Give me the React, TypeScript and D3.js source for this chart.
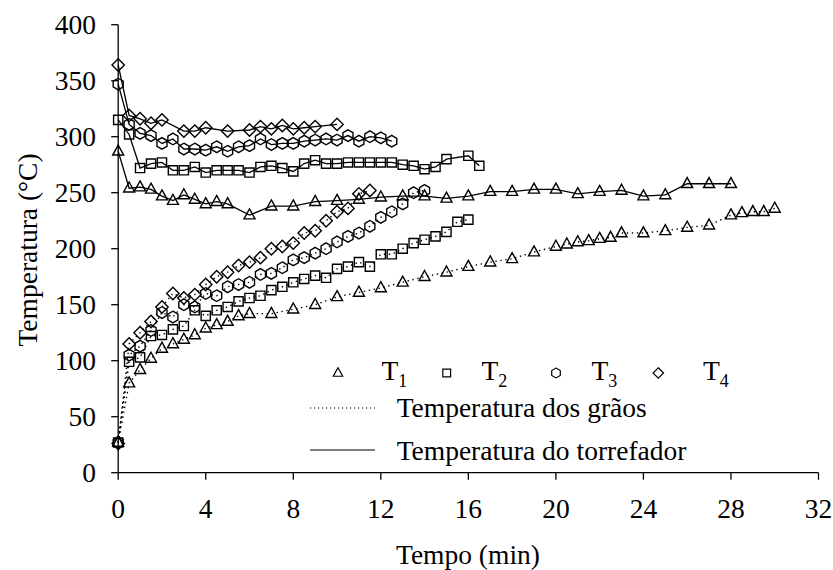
import React from 'react';
import * as d3 from 'd3';

// ---- Data (time in min, temperature in °C) ----
const t1RoasterTime = [0, 0.5, 1, 1.5, 2, 2.5, 3, 3.5, 4, 4.5, 5, 6, 7, 8, 9, 10, 11, 12, 13, 14, 15, 16, 17, 18, 19, 20, 21, 22, 23, 24, 25, 26, 27, 28];
const t1RoasterTemp = [287, 254, 255, 253, 247, 243, 248, 244, 240, 242, 240, 230, 238, 238, 242, 243, 244, 246, 247, 247, 245, 247, 251, 251, 253, 253, 249, 251, 252, 247, 248, 258, 258, 258];

const t1GrainTime = [0, 0.5, 1, 1.5, 2, 2.5, 3, 3.5, 4, 4.5, 5, 5.5, 6, 7, 8, 9, 10, 11, 12, 13, 14, 15, 16, 17, 18, 19, 20, 20.5, 21, 21.5, 22, 22.5, 23, 24, 25, 26, 27, 28, 28.5, 29, 29.5, 30];
const t1GrainTemp = [27, 80, 92, 102, 111, 115, 119, 123, 129, 132, 135, 140, 142, 142, 146, 150, 157, 161, 165, 170, 175, 179, 184, 188, 191, 197, 202, 204, 206, 207, 209, 210, 214, 214, 216, 219, 221, 230, 232, 233, 233, 236];

const t2RoasterTime = [0, 0.5, 1, 1.5, 2, 2.5, 3, 3.5, 4, 4.5, 5, 5.5, 6, 6.5, 7, 7.5, 8, 8.5, 9, 9.5, 10, 10.5, 11, 11.5, 12, 12.5, 13, 13.5, 14, 14.5, 15, 16, 16.5];
const t2RoasterTemp = [315, 302, 272, 276, 277, 270, 270, 273, 268, 270, 270, 270, 268, 273, 274, 272, 269, 276, 279, 276, 276, 277, 277, 277, 277, 277, 275, 274, 271, 273, 280, 283, 274];

const t2GrainTime = [0, 0.5, 1, 1.5, 2, 2.5, 3, 3.5, 4, 4.5, 5, 5.5, 6, 6.5, 7, 7.5, 8, 8.5, 9, 9.5, 10, 10.5, 11, 11.5, 12, 12.5, 13, 13.5, 14, 14.5, 15, 15.5, 16];
const t2GrainTemp = [27, 99, 103, 122, 123, 128, 131, 145, 140, 145, 148, 153, 156, 158, 163, 166, 170, 173, 176, 174, 182, 184, 188, 184, 195, 195, 200, 205, 208, 211, 215, 224, 226];

const t3RoasterTime = [0, 0.5, 1, 1.5, 2, 2.5, 3, 3.5, 4, 4.5, 5, 5.5, 6, 6.5, 7, 7.5, 8, 8.5, 9, 9.5, 10, 10.5, 11, 11.5, 12, 12.5];
const t3RoasterTemp = [347, 311, 303, 301, 294, 298, 289, 289, 288, 291, 287, 291, 292, 298, 293, 294, 294, 296, 297, 298, 297, 301, 296, 300, 299, 296];

const t3GrainTime = [0, 0.5, 1, 1.5, 2, 2.5, 3, 3.5, 4, 4.5, 5, 5.5, 6, 6.5, 7, 7.5, 8, 8.5, 9, 9.5, 10, 10.5, 11, 11.5, 12, 12.5, 13, 13.5, 14];
const t3GrainTemp = [27, 105, 113, 127, 143, 139, 150, 148, 160, 158, 166, 168, 170, 177, 178, 183, 190, 192, 196, 200, 206, 211, 214, 220, 228, 233, 240, 250, 252];

const t4RoasterTime = [0, 0.5, 1, 1.5, 2, 3, 3.5, 4, 5, 6, 6.5, 7, 7.5, 8, 8.5, 9, 10];
const t4RoasterTemp = [364, 319, 316, 312, 315, 305, 305, 308, 305, 306, 309, 307, 310, 307, 308, 309, 311];

const t4GrainTime = [0, 0.5, 1, 1.5, 2, 2.5, 3, 3.5, 4, 4.5, 5, 5.5, 6, 6.5, 7, 7.5, 8, 8.5, 9, 9.5, 10, 10.5, 11, 11.5];
const t4GrainTemp = [26, 115, 125, 135, 148, 160, 156, 159, 168, 175, 179, 185, 188, 192, 200, 202, 205, 214, 216, 225, 233, 236, 249, 252];

const xTicks = [0, 4, 8, 12, 16, 20, 24, 28, 32];
const yTicks = [0, 50, 100, 150, 200, 250, 300, 350, 400];

const seriesNames = ['T1', 'T2', 'T3', 'T4'];
const legendLineLabels = ['Temperatura dos grãos', 'Temperatura do torrefador'];
const xTitle = 'Tempo (min)';
const yTitle = 'Temperatura (°C)';

type Shape = 'triangle' | 'square' | 'hexagon' | 'diamond';

function markerPath(shape: Shape, s: number): string {
  if (shape === 'triangle') {
    const w = 11 * s, h = 10 * s;
    return `M0,${-h * 0.62}L${w / 2},${h * 0.38}L${-w / 2},${h * 0.38}Z`;
  }
  if (shape === 'square') {
    const a = 4.6 * s;
    return `M${-a},${-a}L${a},${-a}L${a},${a}L${-a},${a}Z`;
  }
  if (shape === 'diamond') {
    const a = 6.2 * s;
    return `M0,${-a}L${a},0L0,${a}L${-a},0Z`;
  }
  const r = 5.8 * s;
  const pts = d3.range(6).map((i) => {
    const ang = (Math.PI / 3) * i - Math.PI / 2;
    return [r * Math.cos(ang), r * Math.sin(ang)];
  });
  return 'M' + pts.map((p) => p.join(',')).join('L') + 'Z';
}

const FONT = '"Liberation Serif", "Times New Roman", serif';
const FS = 27.5;

export default function App() {
  const W = 833, H = 570;
  const x = d3.scaleLinear().domain([0, 32]).range([118.2, 818.5]);
  const y = d3.scaleLinear().domain([0, 400]).range([472.7, 24.7]);

  const line = d3
    .line<[number, number]>()
    .x((d) => x(d[0]))
    .y((d) => y(d[1]));

  const zip = (a: number[], b: number[]) => a.map((v, i) => [v, b[i]] as [number, number]);

  const series = [
    { shape: 'triangle' as Shape, grain: zip(t1GrainTime, t1GrainTemp), roaster: zip(t1RoasterTime, t1RoasterTemp) },
    { shape: 'square' as Shape, grain: zip(t2GrainTime, t2GrainTemp), roaster: zip(t2RoasterTime, t2RoasterTemp) },
    { shape: 'hexagon' as Shape, grain: zip(t3GrainTime, t3GrainTemp), roaster: zip(t3RoasterTime, t3RoasterTemp) },
    { shape: 'diamond' as Shape, grain: zip(t4GrainTime, t4GrainTemp), roaster: zip(t4RoasterTime, t4RoasterTemp) },
  ];

  const legendMarkerX = [338, 446.7, 556, 658.3];
  const legendTextX = [381.5, 481.5, 591.5, 703];

  return (
    <svg
      width={W}
      height={H}
      viewBox={`0 0 ${W} ${H}`}
      style={{ position: 'absolute', left: 0, top: 0, background: '#fff' }}
      fontFamily={FONT}
    >
      <rect x={0} y={0} width={W} height={H} fill="#fff" />
      {/* axes */}
      <line x1={x(0)} x2={x(32)} y1={y(0)} y2={y(0)} stroke="#000" strokeWidth={1.3} />
      <line x1={x(0)} x2={x(0)} y1={y(0)} y2={y(400)} stroke="#000" strokeWidth={1.3} />
      {xTicks.map((t) => (
        <g key={'xt' + t}>
          <line x1={x(t)} x2={x(t)} y1={y(0)} y2={y(0) + 7} stroke="#000" strokeWidth={1.3} />
          <text x={x(t)} y={518} textAnchor="middle" fontSize={FS}>
            {t}
          </text>
        </g>
      ))}
      {yTicks.map((t) => (
        <g key={'yt' + t}>
          <line x1={x(0) - 7} x2={x(0)} y1={y(t)} y2={y(t)} stroke="#000" strokeWidth={1.3} />
          <text x={96} y={y(t) + 9.5} textAnchor="end" fontSize={FS}>
            {t}
          </text>
        </g>
      ))}
      <text x={468} y={564} textAnchor="middle" fontSize={FS}>
        {xTitle}
      </text>
      <text transform={`translate(37,250) rotate(-90)`} textAnchor="middle" fontSize={FS}>
        {yTitle}
      </text>

      {/* series */}
      {series.map((s, i) => (
        <g key={'s' + i}>
          <path d={line(s.roaster) || ''} fill="none" stroke="#000" strokeWidth={1.3} />
          <path d={line(s.grain) || ''} fill="none" stroke="#000" strokeWidth={1.4} strokeDasharray="1.4 3.6" />
          {s.roaster.map((d, j) => (
            <path key={'r' + j} d={markerPath(s.shape, 1)} transform={`translate(${x(d[0])},${y(d[1])})`} fill="none" stroke="#000" strokeWidth={1.4} />
          ))}
          {s.grain.map((d, j) => (
            <path key={'g' + j} d={markerPath(s.shape, 1)} transform={`translate(${x(d[0])},${y(d[1])})`} fill="none" stroke="#000" strokeWidth={1.4} />
          ))}
        </g>
      ))}

      {/* legend */}
      {series.map((s, i) => (
        <g key={'lg' + i}>
          <path d={markerPath(s.shape, 0.85)} transform={`translate(${legendMarkerX[i]},373)`} fill="none" stroke="#000" strokeWidth={1.2} />
          <text x={legendTextX[i]} y={380} fontSize={FS}>
            {seriesNames[i].slice(0, 1)}
            <tspan dy={7} fontSize={18}>
              {seriesNames[i].slice(1)}
            </tspan>
          </text>
        </g>
      ))}
      <line x1={310} x2={375} y1={408} y2={408} stroke="#000" strokeWidth={1.2} strokeDasharray="1.2 2.8" />
      <text x={396.7} y={416.5} fontSize={FS}>
        {legendLineLabels[0]}
      </text>
      <line x1={310} x2={375} y1={450} y2={450} stroke="#000" strokeWidth={1.2} />
      <text x={396.7} y={460} fontSize={FS}>
        {legendLineLabels[1]}
      </text>
    </svg>
  );
}
